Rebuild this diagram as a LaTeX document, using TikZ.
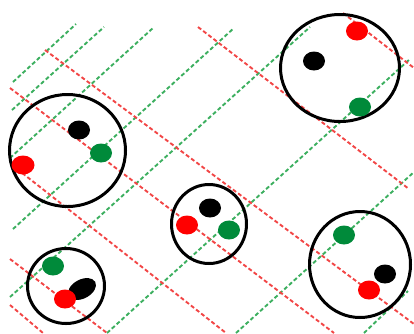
\documentclass[tikz,border=0pt]{standalone}
\begin{document}
\begin{tikzpicture}[x=1pt,y=-1pt,
  gline/.style={draw=lgreen,line width=1.9pt,dash pattern=on 4pt off 2.5pt},
  rline/.style={draw=lred,line width=1.9pt,dash pattern=on 4pt off 2.5pt},
  ring/.style={draw=black,line width=3pt},
  reddot/.style={fill=dred},
  greendot/.style={fill=dgreen},
  blackdot/.style={fill=black}]
\definecolor{lgreen}{RGB}{60,175,95}
\definecolor{lred}{RGB}{242,70,70}
\definecolor{dred}{RGB}{255,0,0}
\definecolor{dgreen}{RGB}{0,138,58}
\useasboundingbox (0,0) rectangle (414,333);
% green dashed lines
\draw[gline] (13,82) -- (76,24);
\draw[gline] (12,110) -- (104,27);
\draw[gline] (10,158) -- (153,28);
\draw[gline] (13,229) -- (234,28);
\draw[gline] (10,297) -- (310,27);
\draw[gline] (107,333) -- (410,59);
\draw[gline] (236,333) -- (414,172);
\draw[gline] (364,333) -- (408,291);
% red dashed lines
\draw[rline] (45,50) -- (414,324);
\draw[rline] (10,88) -- (334,333);
\draw[rline] (12,165) -- (226,333);
\draw[rline] (10,259) -- (107,333);
\draw[rline] (10,305) -- (43,333);
\draw[rline] (198,27) -- (409,189);
\draw[rline] (343,13) -- (414,68);
% circles
\draw[ring] (340,68) ellipse [x radius=59.5pt, y radius=53.5pt];
\draw[ring] (67.5,150.5) ellipse [x radius=58pt, y radius=56pt];
\draw[ring] (209,224) ellipse [x radius=37.5pt, y radius=39.5pt];
\draw[ring] (66,286) ellipse [x radius=38.5pt, y radius=37.5pt];
\draw[ring] (360,264.5) ellipse [x radius=50.5pt, y radius=53pt];
% dots: top-right
\fill[reddot] (357,31) ellipse [x radius=11pt, y radius=9.5pt];
\fill[blackdot] (314,61) ellipse [x radius=11pt, y radius=9.5pt];
\fill[greendot] (360,107) ellipse [x radius=11pt, y radius=9.5pt];
% left
\fill[blackdot] (79,130) ellipse [x radius=11pt, y radius=9.5pt];
\fill[greendot] (101,153) ellipse [x radius=11pt, y radius=9.5pt];
\fill[reddot] (23,165) ellipse [x radius=11.5pt, y radius=9.5pt];
% middle
\fill[blackdot] (210,208) ellipse [x radius=11pt, y radius=9.5pt];
\fill[reddot] (187,225) ellipse [x radius=11pt, y radius=9.5pt];
\fill[greendot] (229,230) ellipse [x radius=11pt, y radius=9.5pt];
% lower-left
\fill[greendot] (53,266) ellipse [x radius=11pt, y radius=9.5pt];
\fill[blackdot, rotate around={28:(82,289)}] (82,289) ellipse [x radius=15pt, y radius=9.5pt];
\fill[reddot] (65,299) ellipse [x radius=11pt, y radius=9.5pt];
% right-lower
\fill[greendot] (344,235) ellipse [x radius=11pt, y radius=9.5pt];
\fill[blackdot] (385,274) ellipse [x radius=11pt, y radius=9.5pt];
\fill[reddot] (369,290) ellipse [x radius=11pt, y radius=9.5pt];
\end{tikzpicture}
\end{document}
